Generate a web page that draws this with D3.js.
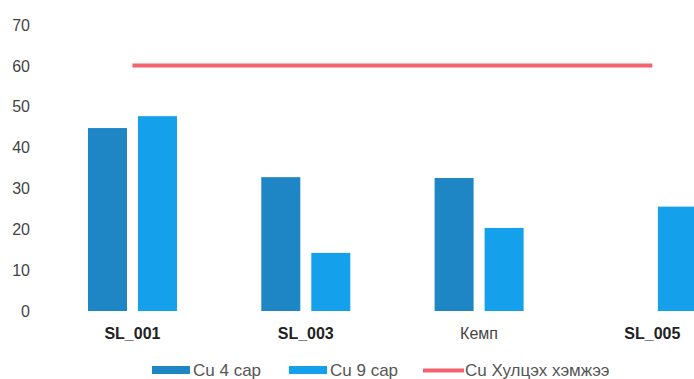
<!DOCTYPE html>
<html><head><meta charset="utf-8">
<script src="https://cdn.jsdelivr.net/npm/d3@7"></script>
<style>body{margin:0;background:#fff;} svg{display:block;font-family:"Liberation Sans",Arial,sans-serif;}</style>
</head><body><svg id="c" width="694" height="379"></svg>
<script>
const categories = ["SL_001", "SL_003", "Кемп", "SL_005"];
const seriesNames = ["Cu 4 сар", "Cu 9 сар"];
const cu4 = [44.7, 32.7, 32.5, null];
const cu9 = [47.6, 14.2, 20.3, 25.5];
const limitName = "Cu Хулцэх хэмжээ";
const limit = [60, 60, 60, 60];
const yTicks = [0, 10, 20, 30, 40, 50, 60, 70];
const colors = ["#1f86c6", "#14a0ea"];
const lineColor = "#f2636f";

const svg = d3.select("#c");
const y = d3.scaleLinear().domain([0, 70]).range([311, 24.5]);
const x0 = d3.scaleBand().domain(categories).range([45.8, 739]).padding(0);
const x1 = d3.scaleBand().domain(seriesNames).range([42.2, 131.2]).paddingInner(0.22).paddingOuter(0);

// y axis labels
const yAxis = d3.axisLeft(y).tickValues(yTicks).tickSize(0).tickPadding(0);
const ga = svg.append("g").attr("transform", "translate(30,0)").call(yAxis);
ga.select(".domain").remove();
ga.selectAll("text").attr("font-size", 16).attr("fill", "#444").attr("font-family", "Liberation Sans, Arial, sans-serif").attr("dy", "0.35em");

// bars
const data = [cu4, cu9];
data.forEach((vals, si) => {
  svg.append("g").selectAll("rect")
    .data(categories.map((c, i) => ({c, v: vals[i]})).filter(d => d.v != null))
    .join("rect")
    .attr("x", d => x0(d.c) + x1(seriesNames[si]))
    .attr("width", x1.bandwidth())
    .attr("y", d => y(d.v))
    .attr("height", d => y(0) - y(d.v))
    .attr("fill", colors[si]);
});

// limit line
const line = d3.line().x((d, i) => x0(categories[i]) + x0.bandwidth() / 2).y(d => y(d));
svg.append("path").datum(limit).attr("d", line).attr("fill", "none")
  .attr("stroke", lineColor).attr("stroke-width", 4);

// category labels
svg.append("g").selectAll("text").data(categories).join("text")
  .attr("x", d => x0(d) + x0.bandwidth() / 2)
  .attr("y", 339)
  .attr("text-anchor", "middle")
  .attr("font-size", 16)
  .attr("font-weight", d => /^[A-Z]/.test(d) ? "bold" : "normal")
  .attr("fill", d => /^[A-Z]/.test(d) ? "#222" : "#444")
  .text(d => d);

// legend
const leg = svg.append("g");
const items = [
  {name: seriesNames[0], type: "rect", color: colors[0], x: 152},
  {name: seriesNames[1], type: "rect", color: colors[1], x: 289},
  {name: limitName, type: "line", color: lineColor, x: 423}
];
items.forEach(it => {
  if (it.type === "rect") {
    leg.append("rect").attr("x", it.x).attr("y", 366).attr("width", 38).attr("height", 8).attr("fill", it.color);
  } else {
    leg.append("line").attr("x1", it.x).attr("x2", it.x + 41).attr("y1", 370.5).attr("y2", 370.5)
      .attr("stroke", it.color).attr("stroke-width", 4);
  }
  leg.append("text").attr("x", it.x + (it.type === "rect" ? 41 : 42)).attr("y", 376)
    .attr("font-size", 17).attr("fill", "#555").text(it.name);
});
</script></body></html>
